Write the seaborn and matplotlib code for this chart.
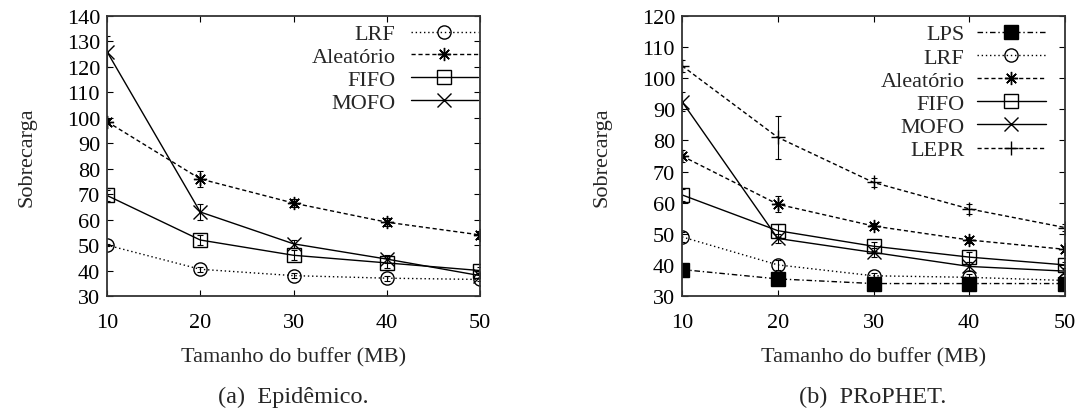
import matplotlib
matplotlib.use("Agg")
import matplotlib.pyplot as plt
import seaborn as sns
import pandas as pd

buffer_mb = [10, 20, 30, 40, 50]

# (a) Epidêmico
epi_lrf = [50, 40.5, 38, 37, 36.5]
epi_aleatorio = [98.5, 76, 66.5, 59, 54]
epi_fifo = [69.5, 52, 46, 43, 40]
epi_mofo = [126, 63, 50.5, 44.5, 38]
epi_lrf_err = [0.5, 1, 1, 1, 0.5]
epi_aleatorio_err = [1, 3, 1.5, 1.5, 1.5]
epi_fifo_err = [2, 2, 2, 2, 1.5]
epi_mofo_err = [6, 3, 1.5, 1.5, 1]

# (b) PRoPHET
pro_lps = [38.5, 35.5, 34, 34, 34]
pro_lrf = [49, 40, 36.5, 36, 35]
pro_aleatorio = [75, 59.5, 52.5, 48, 45]
pro_fifo = [62.5, 51, 46, 42.5, 40]
pro_mofo = [92.5, 48.5, 44, 39.5, 38]
pro_lepr = [104, 81, 66.5, 58, 52]
pro_lps_err = [0.5, 0.5, 0.5, 0.5, 0.5]
pro_lrf_err = [1.5, 1.5, 1, 1, 1]
pro_aleatorio_err = [2, 2.5, 1, 1, 1]
pro_fifo_err = [2, 2, 1.5, 1.5, 1]
pro_mofo_err = [3, 1.5, 1.5, 1.5, 1]
pro_lepr_err = [2, 7, 1.5, 1.5, 1]

sns.set_style("ticks")
plt.rcParams["font.family"] = ["Liberation Serif", "DejaVu Serif"]

FS = 16

styles = {
    "LPS": dict(marker="s", ls=(0, (4, 2, 1, 2)), mfc="black"),
    "LRF": dict(marker="o", ls=(0, (1, 2)), mfc="none"),
    "Aleatório": dict(marker=(8, 2, 0), ls=(0, (3, 2)), mfc="none"),
    "FIFO": dict(marker="s", ls="-", mfc="none"),
    "MOFO": dict(marker="x", ls="-", mfc="none"),
    "LEPR": dict(marker="+", ls=(0, (3, 2)), mfc="none"),
}

fig = plt.figure(figsize=(10.92, 4.14), dpi=100)
ax1 = fig.add_axes([107 / 1092, 117 / 414, 373 / 1092, 280 / 414])
ax2 = fig.add_axes([682 / 1092, 117 / 414, 383 / 1092, 280 / 414])


def draw(ax, series):
    for name, vals, errs in series:
        st = styles[name]
        df = pd.DataFrame({"x": buffer_mb, "y": vals})
        sns.lineplot(data=df, x="x", y="y", ax=ax, color="black", lw=1.0,
                     linestyle=st["ls"], marker=st["marker"], markersize=9.5,
                     markerfacecolor=st["mfc"], markeredgecolor="black",
                     markeredgewidth=1.0, label=name)
        ax.errorbar(buffer_mb, vals, yerr=errs, fmt="none", ecolor="black",
                    elinewidth=0.8, capsize=2, capthick=0.8)


draw(ax1, [("LRF", epi_lrf, epi_lrf_err),
           ("Aleatório", epi_aleatorio, epi_aleatorio_err),
           ("FIFO", epi_fifo, epi_fifo_err),
           ("MOFO", epi_mofo, epi_mofo_err)])
draw(ax2, [("LPS", pro_lps, pro_lps_err),
           ("LRF", pro_lrf, pro_lrf_err),
           ("Aleatório", pro_aleatorio, pro_aleatorio_err),
           ("FIFO", pro_fifo, pro_fifo_err),
           ("MOFO", pro_mofo, pro_mofo_err),
           ("LEPR", pro_lepr, pro_lepr_err)])

ax1.set_ylim(30, 140)
ax1.set_yticks(range(30, 141, 10))
ax2.set_ylim(30, 120)
ax2.set_yticks(range(30, 121, 10))

for ax in (ax1, ax2):
    ax.set_xlim(10, 50)
    ax.set_xticks(buffer_mb)
    ax.tick_params(direction="in", top=True, right=True, labelsize=FS,
                   length=4, width=0.8, colors="black")
    ax.tick_params(axis="x", pad=12)
    ax.tick_params(axis="y", pad=5)
    ax.set_xlabel("Tamanho do buffer (MB)", fontsize=FS, labelpad=11)
    ax.set_ylabel("Sobrecarga", fontsize=FS, labelpad=22)
    for sp in ax.spines.values():
        sp.set_visible(True)
        sp.set_linewidth(1.3)
        sp.set_color("#333333")

ax1.legend(loc="upper right", markerfirst=False, frameon=False,
           fontsize=FS, handlelength=3.0, handletextpad=0.7,
           labelspacing=0.1, borderaxespad=0.0, borderpad=0.1,
           bbox_to_anchor=(1.0, 0.98))
ax2.legend(loc="upper right", markerfirst=False, frameon=False,
           fontsize=FS, handlelength=3.1, handletextpad=0.55,
           labelspacing=0.12, borderaxespad=0.0, borderpad=0.1,
           bbox_to_anchor=(0.955, 0.98))

fig.text(293 / 1092, 0.04, "(a)  Epidêmico.", ha="center", va="center", fontsize=17.5)
fig.text(873 / 1092, 0.04, "(b)  PRoPHET.", ha="center", va="center", fontsize=17.5)

fig.savefig("out.png", dpi=100)
